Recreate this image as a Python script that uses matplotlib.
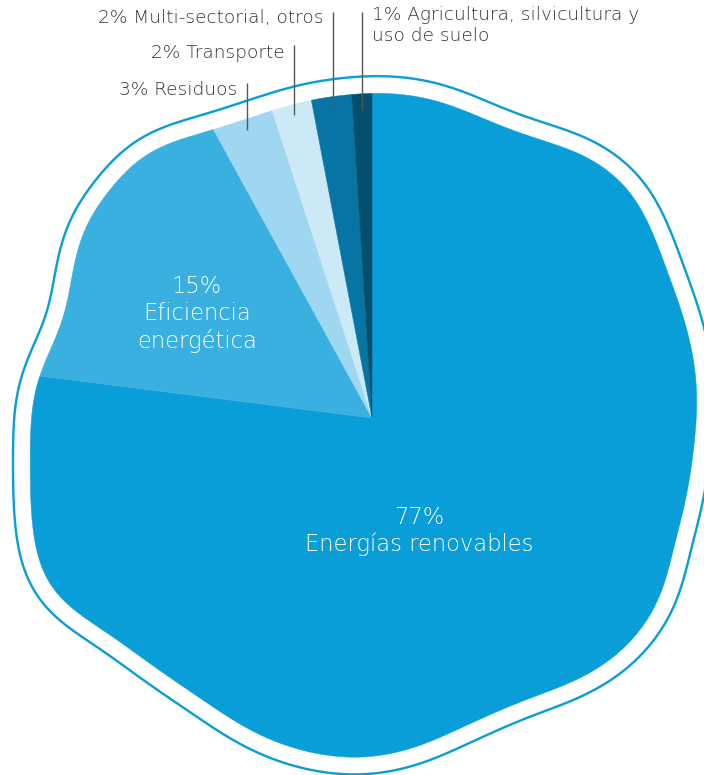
import numpy as np
import matplotlib
matplotlib.use('Agg')
import matplotlib.pyplot as plt
from matplotlib.path import Path
from matplotlib.patches import PathPatch

# shares (%) going clockwise from 12 o'clock
categories = ['Energías renovables', 'Eficiencia energética', 'Residuos',
              'Transporte', 'Multi-sectorial, otros',
              'Agricultura, silvicultura y uso de suelo']
values = [77, 15, 3, 2, 2, 1]
inner_labels = ['77%\nEnergías renovables', '15%\nEficiencia\nenergética']
outer_labels = ['3% Residuos', '2% Transporte', '2% Multi-sectorial, otros',
                '1% Agricultura, silvicultura y\nuso de suelo']
colors = ['#0A9ED8', '#3AB0E0', '#9FD7F0', '#CBE9F6', '#0775A3', '#054F6E']
outline_color = '#0A9ED8'

W, H = 704, 775
cx, cy = 372, 418  # pie centre in image pixels

# outline of the wobbly blob (image pixels)
blob_px = [(372, 93), (422, 97), (455, 107), (489, 122), (522, 135), (555, 145),
           (589, 157), (612, 173), (630, 190), (647, 220), (667, 273), (684, 320),
           (694, 363), (697, 397), (694, 440), (686, 497), (672, 550), (663, 590),
           (650, 617), (623, 650), (583, 677), (517, 702), (450, 732), (417, 747),
           (360, 758), (300, 750), (250, 730), (200, 697), (150, 663), (110, 633),
           (73, 610), (50, 590), (37, 557), (32, 517), (31, 447), (32, 407),
           (38, 377), (53, 347), (67, 313), (72, 280), (83, 230), (110, 190),
           (147, 152), (213, 131), (273, 111), (311, 100), (350, 95)]

N = 1440
GRID = np.linspace(0, 2 * np.pi, N, endpoint=False)


def catmull_rom(p, per_seg=60):
    # closed centripetal catmull-rom through the points
    n = len(p)
    out = []
    for i in range(n):
        p0, p1, p2, p3 = p[i - 1], p[i], p[(i + 1) % n], p[(i + 2) % n]
        t0 = 0.0
        t1 = t0 + np.linalg.norm(p1 - p0) ** 0.5
        t2 = t1 + np.linalg.norm(p2 - p1) ** 0.5
        t3 = t2 + np.linalg.norm(p3 - p2) ** 0.5
        t = np.linspace(t1, t2, per_seg, endpoint=False)[:, None]
        a1 = (t1 - t) / (t1 - t0) * p0 + (t - t0) / (t1 - t0) * p1
        a2 = (t2 - t) / (t2 - t1) * p1 + (t - t1) / (t2 - t1) * p2
        a3 = (t3 - t) / (t3 - t2) * p2 + (t - t2) / (t3 - t2) * p3
        b1 = (t2 - t) / (t2 - t0) * a1 + (t - t0) / (t2 - t0) * a2
        b2 = (t3 - t) / (t3 - t1) * a2 + (t - t1) / (t3 - t1) * a3
        out.append((t2 - t) / (t2 - t1) * b1 + (t - t1) / (t2 - t1) * b2)
    return np.vstack(out)


def blob_radius(points, sigma=0.07):
    pts = np.array(points, dtype=float)
    pts = np.column_stack([pts[:, 0] - cx, cy - pts[:, 1]])
    curve = catmull_rom(pts)
    ang = np.arctan2(curve[:, 1], curve[:, 0]) % (2 * np.pi)
    r = np.hypot(curve[:, 0], curve[:, 1])
    order = np.argsort(ang)
    rr = np.interp(GRID, ang[order], r[order], period=2 * np.pi)
    spec = np.fft.rfft(rr)
    k = np.arange(len(spec))
    spec *= np.exp(-0.5 * (k * sigma) ** 2)
    return np.fft.irfft(spec, N)


rr = blob_radius(blob_px)


def r_at(theta):
    return np.interp(theta % (2 * np.pi), GRID, rr, period=2 * np.pi)


fig = plt.figure(figsize=(W / 100, H / 100), dpi=100)
ax = fig.add_axes([0, 0, 1, 1])

# blue ring with a white gap around the pie (stroked blob outline)
xs, ys = rr * np.cos(GRID), rr * np.sin(GRID)
verts = np.column_stack([np.append(xs, xs[0]), np.append(ys, ys[0])])
blob = Path(verts, [Path.MOVETO] + [Path.LINETO] * (N - 1) + [Path.CLOSEPOLY])
px2pt = 72 / 100
gap, lw = 16, 2.4
ax.add_patch(PathPatch(blob, facecolor='none', edgecolor=outline_color,
                       linewidth=2 * (gap + lw) * px2pt, joinstyle='round', zorder=1))
ax.add_patch(PathPatch(blob, facecolor='white', edgecolor='white',
                       linewidth=2 * gap * px2pt, joinstyle='round', zorder=2))

# slices: clockwise from 12 o'clock, outer edge follows the blob
cum = np.cumsum([0] + values) / sum(values) * 360
for i, v in enumerate(values):
    a0 = np.deg2rad(90 - cum[i])
    a1 = np.deg2rad(90 - cum[i + 1])
    t = np.linspace(a0, a1, max(int(abs(a1 - a0) / (2 * np.pi) * N), 4))
    r = r_at(t)
    px = np.concatenate([[0], r * np.cos(t), [0]])
    py = np.concatenate([[0], r * np.sin(t), [0]])
    ax.fill(px, py, color=colors[i], lw=0.3, ec=colors[i], zorder=3)

ax.set_xlim(-cx, W - cx)
ax.set_ylim(-(H - cy), cy)
ax.set_aspect('equal')
ax.axis('off')

font = 'DejaVu Sans'

# inner labels
ax.text(419 - cx, cy - 531, inner_labels[0], color='white', fontsize=16.3,
        family=font, fontweight='light', ha='center', va='center',
        linespacing=1.15, zorder=5)
ax.text(197 - cx, cy - 314, inner_labels[1], color='white', fontsize=16.3,
        family=font, fontweight='light', ha='center', va='center',
        linespacing=1.22, zorder=5)

# leader lines for the small slices
line_bottom = [130, 115, 110, 110]
line_top = [83, 45, 12, 12]
text_y = [90, 53, 18, 18]
for i, lab in enumerate(outer_labels):
    k = i + 2
    mid = (cum[k] + cum[k + 1]) / 2
    theta = np.deg2rad(90 - mid)
    yb = cy - line_bottom[i]
    xl = yb * np.cos(theta) / np.sin(theta)
    ax.plot([xl, xl], [yb, cy - line_top[i]], color='#555555', lw=1.0,
            zorder=6, solid_capstyle='butt')
    if i < 3:
        ax.text(xl - 10, cy - text_y[i], lab, color='#333333', fontsize=13.3,
                family=font, fontweight='light', ha='right', va='center', zorder=6)
    else:
        ax.text(xl + 10, cy - 6, lab, color='#333333', fontsize=13.3,
                family=font, fontweight='light', ha='left', va='top',
                linespacing=1.2, zorder=6)

fig.savefig('out.png', dpi=100)
